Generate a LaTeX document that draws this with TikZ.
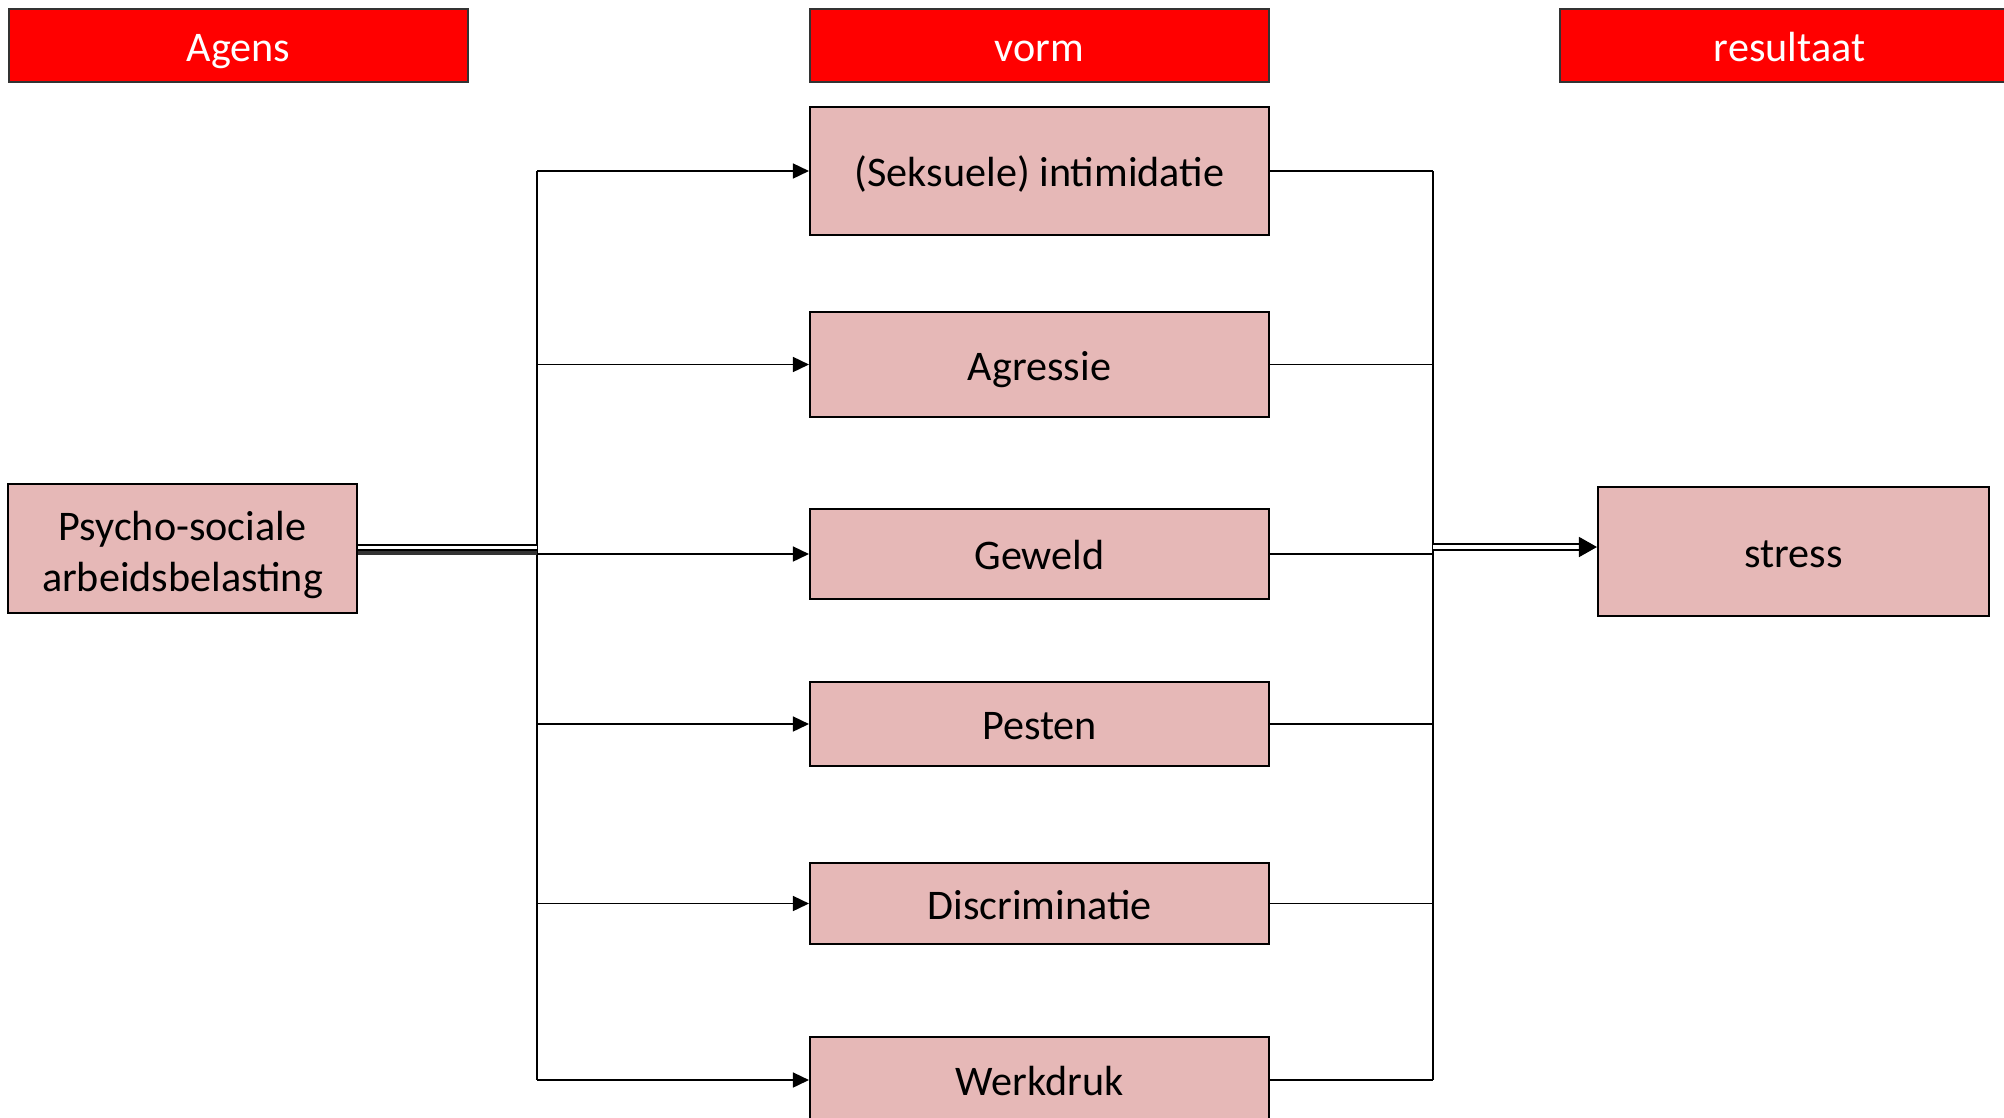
\documentclass[tikz,border=0pt]{standalone}
\usepackage{fontspec}
\setmainfont{Carlito}
\usetikzlibrary{arrows.meta,positioning}
\definecolor{blockpink}{HTML}{E6B8B7}
\definecolor{headred}{HTML}{FF0000}
\tikzset{
    % Column header
    header/.style={rectangle,draw=black!80,line width=0.5pt,fill=headred,text=white,minimum width=4.59cm,minimum height=0.73cm,inner sep=0pt,text height=11pt,text depth=2pt,font=\fontsize{12}{14.6}\selectfont},
    % Pink box
    block/.style={rectangle,draw=black,line width=0.6pt,fill=blockpink,inner sep=0pt,align=center,font=\fontsize{12}{14.6}\selectfont},
    % Box in the middle column
    vormbox/.style={block,minimum width=4.59cm,text height=11pt,text depth=2pt},
    % Connector line
    link/.style={line width=0.45pt},
    % Connector arrow
    linkarrow/.style={link,-{Triangle[length=0.16cm,width=0.15cm]}},
    % Double arrow into the result
    dblarrow/.style={double,double distance=1.1pt,line width=0.45pt,-{Triangle[length=0.18cm,width=0.2cm]}}
}
\newcommand{\lowline}[1]{\raisebox{-1.8pt}[\height][\depth]{#1}}
\begin{document}
\begin{tikzpicture}
    \useasboundingbox (0,0) rectangle (20.04,-11.17);

    % Column headers
    \node[header] (agens) at (2.385,-0.455) {Agens};
    \node[header] (vorm) at (10.395,-0.455) {vorm};
    \node[header] (resultaat) at (17.895,-0.455) {resultaat};

    % Agens and result
    \node[block,minimum width=3.49cm,minimum height=1.29cm] (psycho) at (1.825,-5.485) {\lowline{Psycho-sociale}\\\lowline{arbeidsbelasting}};
    \node[block,minimum width=3.91cm,minimum height=1.29cm,text height=11pt,text depth=2pt] (stress) at (17.935,-5.515) {stress};

    % Forms
    \node[vormbox,minimum height=1.28cm] (intimidatie) at (10.395,-1.71) {(Seksuele) intimidatie};
    \node[vormbox,minimum height=1.05cm] (agressie) at (10.395,-3.645) {Agressie};
    \node[vormbox,minimum height=0.90cm] (geweld) at (10.395,-5.54) {Geweld};
    \node[vormbox,minimum height=0.84cm] (pesten) at (10.395,-7.24) {Pesten};
    \node[vormbox,minimum height=0.81cm] (discriminatie) at (10.395,-9.035) {Discriminatie};
    \node[vormbox,minimum height=0.86cm] (werkdruk) at (10.395,-10.8) {Werkdruk};

    % Bus lines
    \coordinate (lbus) at (5.37,0);
    \coordinate (rbus) at (14.33,0);
    \draw[link] (lbus |- intimidatie.west) -- (lbus |- werkdruk.west);
    \draw[link] (rbus |- intimidatie.east) -- (rbus |- werkdruk.east);
    \foreach \vorm in {intimidatie,agressie,geweld,pesten,discriminatie,werkdruk}{
        \draw[linkarrow] (lbus |- \vorm.west) -- (\vorm.west);
        \draw[link] (\vorm.east) -- (rbus |- \vorm.east);
    }

    % Agens into the bus
    \coordinate (lin) at (5.37,-5.475);
    \coordinate (lin2) at (5.37,-5.53);
    \draw[link,double,double distance=1pt] (psycho.east |- lin) -- (lin);
    \draw[line width=1.1pt,black!80] (psycho.east |- lin2) -- (lin2);

    % Bus into the result
    \coordinate (rout) at (14.33,-5.47);
    \draw[dblarrow] (rout) -- (stress.west |- rout);
\end{tikzpicture}
\end{document}
